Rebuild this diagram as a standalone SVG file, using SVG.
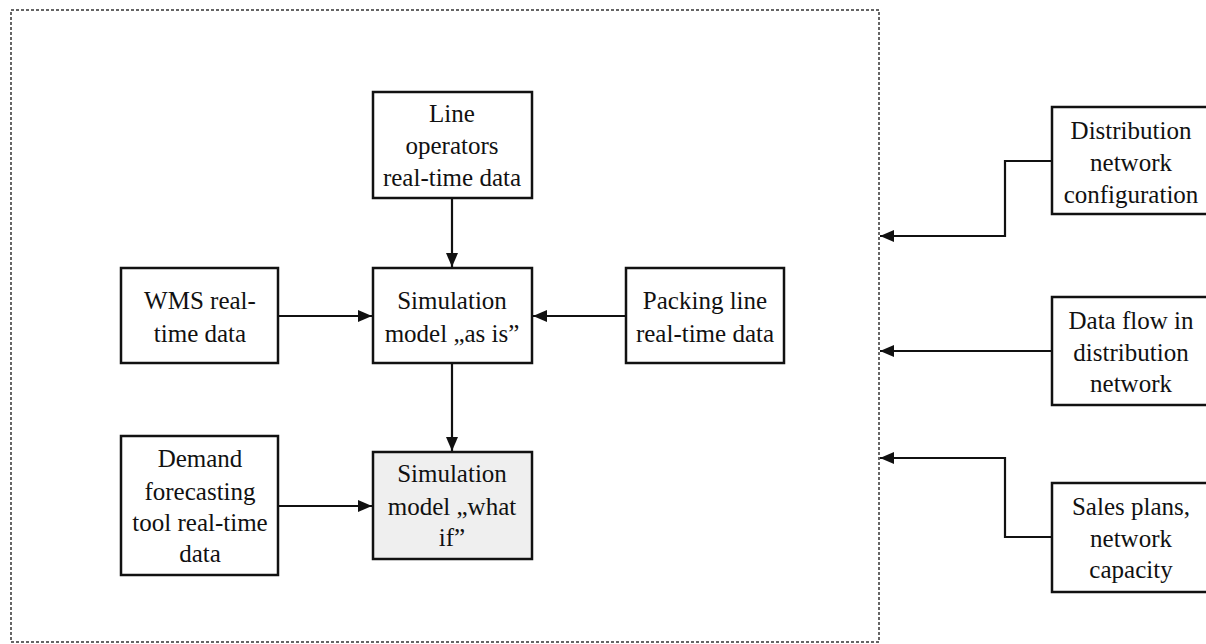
<svg xmlns="http://www.w3.org/2000/svg" width="1206" height="644" viewBox="0 0 1206 644">
<defs>
<style>
.box{fill:#fff;stroke:#111;stroke-width:2.5}
.grey{fill:#efefef}
.t{font-family:"Liberation Serif","Times New Roman",serif;font-size:25px;fill:#111;text-anchor:middle}
.c{fill:none;stroke:#111;stroke-width:2.2}
.frame{fill:none;stroke:#333;stroke-width:1.5;stroke-dasharray:3 2}
</style>
<marker id="ah" viewBox="0 0 14 12" refX="14" refY="6" markerWidth="14" markerHeight="12" markerUnits="userSpaceOnUse" orient="auto">
<path d="M0,0 L14,6 L0,12 Z" fill="#111"/>
</marker>
</defs>
<rect width="1206" height="644" fill="#fff"/>
<rect id="frame" class="frame" x="11" y="10" width="868" height="632"/>
<g id="connectors">
<line class="c" x1="452" y1="198" x2="452" y2="267" marker-end="url(#ah)"/>
<line class="c" x1="452" y1="363" x2="452" y2="451" marker-end="url(#ah)"/>
<line class="c" x1="278" y1="316" x2="372" y2="316" marker-end="url(#ah)"/>
<line class="c" x1="626" y1="316" x2="533" y2="316" marker-end="url(#ah)"/>
<line class="c" x1="278" y1="506" x2="372" y2="506" marker-end="url(#ah)"/>
<polyline class="c" points="1052,161 1005,161 1005,236 880,236" marker-end="url(#ah)"/>
<line class="c" x1="1052" y1="351" x2="880" y2="351" marker-end="url(#ah)"/>
<polyline class="c" points="1052,537 1005,537 1005,458 880,458" marker-end="url(#ah)"/>
</g>
<g id="line-operators">
<rect class="box" x="373" y="92" width="159" height="106"/>
<text class="t" x="452" y="122">Line</text>
<text class="t" x="452" y="154">operators</text>
<text class="t" x="452" y="186">real-time data</text>
</g>
<g id="as-is">
<rect class="box" x="373" y="268" width="159" height="95"/>
<text class="t" x="452" y="309">Simulation</text>
<text class="t" x="452" y="342">model „as is”</text>
</g>
<g id="packing">
<rect class="box" x="626" y="268" width="158" height="95"/>
<text class="t" x="705" y="309">Packing line</text>
<text class="t" x="705" y="342">real-time data</text>
</g>
<g id="wms">
<rect class="box" x="121" y="268" width="157" height="95"/>
<text class="t" x="200" y="309">WMS real-</text>
<text class="t" x="200" y="342">time data</text>
</g>
<g id="demand">
<rect class="box" x="121" y="436" width="157" height="139"/>
<text class="t" x="200" y="467">Demand</text>
<text class="t" x="200" y="500">forecasting</text>
<text class="t" x="200" y="531">tool real-time</text>
<text class="t" x="200" y="562">data</text>
</g>
<g id="what-if">
<rect class="box grey" x="373" y="452" width="159" height="107"/>
<text class="t" x="452" y="482">Simulation</text>
<text class="t" x="452" y="515">model „what</text>
<text class="t" x="452" y="546">if”</text>
</g>
<g id="dist-config">
<rect class="box" x="1052" y="107" width="160" height="107"/>
<text class="t" x="1131" y="139">Distribution</text>
<text class="t" x="1131" y="171">network</text>
<text class="t" x="1131" y="203">configuration</text>
</g>
<g id="data-flow">
<rect class="box" x="1052" y="297" width="160" height="108"/>
<text class="t" x="1131" y="329">Data flow in</text>
<text class="t" x="1131" y="361">distribution</text>
<text class="t" x="1131" y="392">network</text>
</g>
<g id="sales">
<rect class="box" x="1052" y="483" width="160" height="109"/>
<text class="t" x="1131" y="515">Sales plans,</text>
<text class="t" x="1131" y="547">network</text>
<text class="t" x="1131" y="578">capacity</text>
</g>
</svg>
